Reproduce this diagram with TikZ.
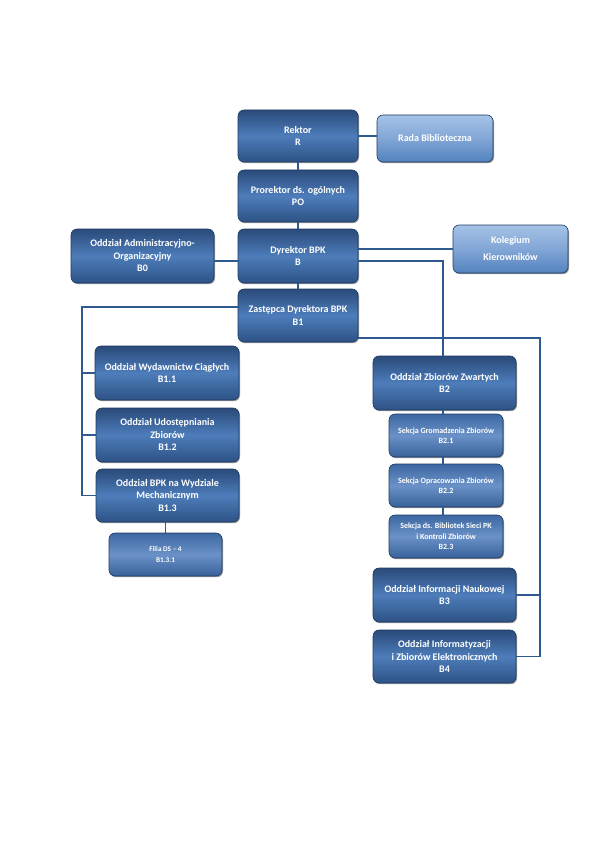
\documentclass[tikz,border=0pt]{standalone}
\usepackage{fontspec}
\setmainfont{Carlito}
\usetikzlibrary{shadows}
\definecolor{dtop}{HTML}{2A4A7A}
\definecolor{dmid}{HTML}{4D7DBA}
\definecolor{dbot}{HTML}{2D5285}
\definecolor{ltop}{HTML}{A6C2E6}
\definecolor{lmid}{HTML}{82A6D6}
\definecolor{lbot}{HTML}{5282BE}
\definecolor{stop}{HTML}{3D67A1}
\definecolor{smid}{HTML}{6A92C8}
\definecolor{sbot}{HTML}{38619A}
\definecolor{boxline}{HTML}{1F3A62}
\definecolor{lineblue}{HTML}{2F5A90}
\tikzset{
  box/.style={draw=boxline, line width=0.6pt, rounded corners=6pt, align=center,
    text=white, font=\bfseries\fontsize{10}{12.5}\selectfont, inner sep=2pt,
    top color=dtop, bottom color=dbot, middle color=dmid,
    drop shadow={shadow xshift=1pt, shadow yshift=-1.2pt, opacity=0.4, fill=black}},
  lightbox/.style={box, top color=ltop, bottom color=lbot, middle color=lmid},
  secbox/.style={box, top color=stop, bottom color=sbot, middle color=smid,
    font=\bfseries\fontsize{8}{10.5}\selectfont},
  filiabox/.style={secbox, font=\bfseries\fontsize{7.2}{11}\selectfont},
  conn/.style={draw=lineblue, line width=1.5pt},
}
\begin{document}
\begin{tikzpicture}[x=1pt,y=-1pt]
\useasboundingbox (0,0) rectangle (595,842);
\coordinate (lx) at (82,307);
\coordinate (rx) at (540,338);
\coordinate (mx) at (443,261);
% nodes
\node[box, minimum width=120pt, minimum height=52pt] (rektor) at (298,136) {Rektor\\R};
\node[lightbox, minimum width=116pt, minimum height=47pt] (rada) at (435,138.5) {Rada Biblioteczna};
\node[box, minimum width=120pt, minimum height=52pt] (prorektor) at (298,196) {Prorektor ds. ogólnych\\PO};
\node[box, minimum width=120pt, minimum height=54pt] (dyrektor) at (298,256) {Dyrektor BPK\\B};
\node[box, minimum width=143pt, minimum height=54pt] (admin) at (142.5,256) {Oddział Administracyjno-\\Organizacyjny\\B0};
\node[lightbox, minimum width=115pt, minimum height=48pt, font=\bfseries\fontsize{10}{17}\selectfont] (kolegium) at (510.5,249) {Kolegium\\Kierowników};
\node[box, minimum width=120pt, minimum height=53pt] (zastepca) at (298,315.5) {Zastępca Dyrektora BPK\\B1};
\node[box, minimum width=144pt, minimum height=54pt] (b11) at (167,373) {Oddział Wydawnictw Ciągłych\\B1.1};
\node[box, minimum width=143pt, minimum height=54pt] (b12) at (167.5,435) {Oddział Udostępniania\\Zbiorów\\B1.2};
\node[box, minimum width=143pt, minimum height=53pt] (b13) at (167.5,495.5) {Oddział BPK na Wydziale\\Mechanicznym\\B1.3};
\node[filiabox, minimum width=113pt, minimum height=43pt] (filia) at (165.5,554.5) {Filia DS – 4\\B1.3.1};
\node[box, minimum width=143pt, minimum height=54pt] (b2) at (444.5,383) {Oddział Zbiorów Zwartych\\B2};
\node[secbox, minimum width=114pt, minimum height=43pt] (b21) at (446,435.5) {Sekcja Gromadzenia Zbiorów\\B2.1};
\node[secbox, minimum width=114pt, minimum height=43pt] (b22) at (446,485.5) {Sekcja Opracowania Zbiorów\\B2.2};
\node[secbox, minimum width=114pt, minimum height=43pt] (b23) at (446,536.5) {Sekcja ds. Bibliotek Sieci PK\\i Kontroli Zbiorów\\B2.3};
\node[box, minimum width=143pt, minimum height=54pt] (b3) at (444.5,595) {Oddział Informacji Naukowej\\B3};
\node[box, minimum width=143pt, minimum height=53pt] (b4) at (444.5,656.5) {Oddział Informatyzacji\\i Zbiorów Elektronicznych\\B4};
% connectors
\draw[conn] (rektor.east) -- (rada.west |- rektor.east);
\draw[conn] (rektor.south) -- (prorektor.north);
\draw[conn] (prorektor.south) -- (dyrektor.north);
\draw[conn] (dyrektor.south) -- (zastepca.north);
\draw[conn] (admin.east |- mx) -- (dyrektor.west |- mx);
\draw[conn] (dyrektor.east |- kolegium.west) -- (kolegium.west);
\draw[conn] (dyrektor.east |- mx) -- (mx) -- (mx |- b2.north);
\draw[conn] (zastepca.west |- lx) -- (lx) -- (lx |- b13.west) -- (b13.west);
\draw[conn] (lx |- b11.west) -- (b11.west);
\draw[conn] (lx |- b12.west) -- (b12.west);
\draw[conn] (filia.north) -- (filia.north |- b13.south);
\draw[conn] (zastepca.east |- rx) -- (rx) -- (rx |- b4.east) -- (b4.east);
\draw[conn] (rx |- b3.east) -- (b3.east);
\draw[conn] (mx |- b2.south) -- (mx |- b21.north);
\draw[conn] (mx |- b21.south) -- (mx |- b22.north);
\draw[conn] (mx |- b22.south) -- (mx |- b23.north);
\end{tikzpicture}
\end{document}
